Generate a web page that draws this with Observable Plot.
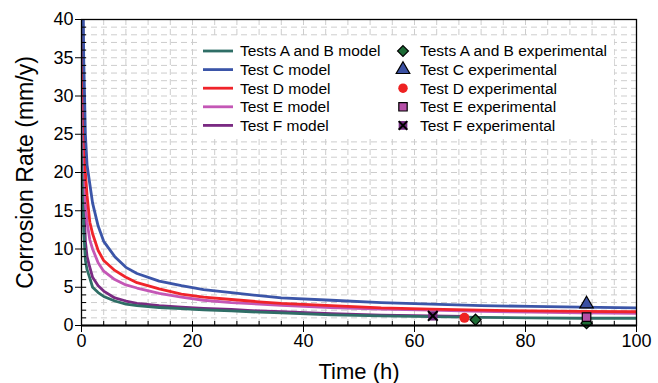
<!DOCTYPE html>
<html>
<head>
<meta charset="utf-8">
<script src="https://cdn.jsdelivr.net/npm/d3@7"></script>
<script src="https://cdn.jsdelivr.net/npm/@observablehq/plot@0.6"></script>
<style>
  body { margin: 0; background: #fff; }
  #chart { position: relative; width: 658px; height: 383px; }
  #chart svg { font-family: "Liberation Sans", Arial, Helvetica, sans-serif; }
</style>
</head>
<body>
<div id="chart"></div>
<script>
// Model curves: corrosion rate (mm/y) against exposure time (h)
const hours  = [0.05, 0.1, 0.2, 0.4, 0.7, 1, 1.5, 2, 3, 4, 6, 8, 10, 14, 18, 22, 27, 32, 36, 45, 54, 63, 72, 81, 90, 100];
const rateAB = [60, 30, 20, 12.5, 8.5, 7.3, 6.2, 5.0, 4.3, 3.8, 3.2, 2.8, 2.6, 2.35, 2.2, 2.05, 1.9, 1.75, 1.65, 1.4, 1.25, 1.15, 1.05, 1.0, 0.95, 0.95];
const rateC  = [90, 70, 50, 35, 25, 21, 18.5, 16, 13, 11, 9, 7.6, 6.8, 5.8, 5.2, 4.7, 4.3, 3.9, 3.6, 3.3, 3.0, 2.8, 2.6, 2.5, 2.4, 2.3];
const rateD  = [80, 60, 40, 30, 20, 17, 13.5, 12, 9.8, 8.5, 7.2, 6.3, 5.6, 4.8, 4.1, 3.7, 3.4, 3.1, 2.9, 2.6, 2.3, 2.15, 2.0, 1.9, 1.85, 1.8];
const rateE  = [75, 55, 38, 25, 16, 13.5, 11.2, 10, 8.2, 7.1, 6.0, 5.3, 4.9, 4.2, 3.7, 3.3, 3.0, 2.8, 2.65, 2.35, 2.15, 2.0, 1.85, 1.75, 1.65, 1.6];
// Test F ran for a shorter time
const hoursF = [0.05, 0.1, 0.2, 0.4, 0.7, 1, 1.5, 2, 3, 4, 6, 8, 10, 14, 18, 22, 27, 32, 36, 45, 54, 63, 69];
const rateF  = [70, 42, 30, 17, 11, 9, 7.6, 6.3, 5.2, 4.5, 3.6, 3.2, 2.9, 2.6, 2.4, 2.25, 2.1, 1.9, 1.8, 1.55, 1.35, 1.25, 1.2];

// Measured (experimental) corrosion rates
const expAB = {time: [71, 91], rate: [0.75, 0.3]};
const expC  = {time: [91], rate: [2.8]};
const expD  = {time: [69], rate: [1.0]};
const expE  = {time: [91], rate: [1.1]};
const expF  = {time: [63.3], rate: [1.25]};

const seriesNames = ["Tests A and B model", "Test C model", "Test D model", "Test E model", "Test F model"];
const expNames = ["Tests A and B experimental", "Test C experimental", "Test D experimental", "Test E experimental", "Test F experimental"];
const lineColors = ["#2f6e66", "#3b55a8", "#f0242a", "#c457b6", "#7a2a82"];

const xTicks = [0, 20, 40, 60, 80, 100];
const yTicks = [0, 5, 10, 15, 20, 25, 30, 35, 40];

const toRows = (ts, vs, name) => ts.map((t, i) => ({t, v: vs[i], name}));
const modelRows = [
  toRows(hours, rateAB, seriesNames[0]),
  toRows(hours, rateC, seriesNames[1]),
  toRows(hours, rateD, seriesNames[2]),
  toRows(hours, rateE, seriesNames[3]),
  toRows(hoursF, rateF, seriesNames[4])
];
const expRows = (e) => e.time.map((t, i) => ({t, v: e.rate[i]}));

const lineStyle = (i) => ({x: "t", y: "v", stroke: lineColors[i], strokeWidth: 2.8, clip: true});
const gridStyle = {stroke: "#cdcdcd", strokeOpacity: 1, strokeWidth: 1, strokeDasharray: "6,4"};

const chart = Plot.plot({
  width: 658,
  height: 383,
  marginLeft: 81,
  marginRight: 22,
  marginTop: 19,
  marginBottom: 58,
  x: {domain: [0, 100]},
  y: {domain: [0, 40]},
  style: {fontFamily: "Liberation Sans, Arial, sans-serif", background: "#fff"},
  marks: [
    Plot.gridX(d3.range(4, 100, 4), gridStyle),
    Plot.gridY(d3.range(1, 40, 1), gridStyle),
    // draw order: lower curves first
    Plot.line(modelRows[4], lineStyle(4)),
    Plot.line(modelRows[0], lineStyle(0)),
    Plot.line(modelRows[3], lineStyle(3)),
    Plot.line(modelRows[2], lineStyle(2)),
    Plot.line(modelRows[1], lineStyle(1)),
    // experimental points
    Plot.dot(expRows(expAB), {x: "t", y: "v", symbol: "diamond2", r: 5, fill: "#1d6b35", stroke: "#000", strokeWidth: 1.2}),
    Plot.dot(expRows(expC), {x: "t", y: "v", symbol: "triangle", r: 5, fill: "#3a50a2", stroke: "#000", strokeWidth: 1.2}),
    Plot.dot(expRows(expD), {x: "t", y: "v", symbol: "circle", r: 5, fill: "#ee2222"}),
    Plot.dot(expRows(expE), {x: "t", y: "v", symbol: "square", r: 4.8, fill: "#b650a8", stroke: "#000", strokeWidth: 1.2}),
    Plot.dot(expRows(expF), {x: "t", y: "v", symbol: "square", r: 5.2, fill: "#6e2a7c"}),
    Plot.dot(expRows(expF), {x: "t", y: "v", symbol: "times", r: 4.5, stroke: "#000", strokeWidth: 2}),
    // frame and axes
    Plot.frame({stroke: "#000", strokeWidth: 1.3}),
    Plot.ruleY([0], {stroke: "#000", strokeWidth: 2.2}),
    Plot.axisX(xTicks, {tickSize: 7, tickPadding: 2, fontSize: 18, label: null, stroke: "#000"}),
    Plot.axisX(d3.range(0, 101, 4), {tickSize: -4, text: null, label: null, stroke: "#000"}),
    Plot.axisY(yTicks, {tickSize: 6, tickPadding: 2, fontSize: 18, label: null, stroke: "#000"}),
    Plot.axisY(d3.range(0, 41, 1), {tickSize: -5, text: null, label: null, stroke: "#000"}),
    Plot.text(["Time (h)"], {frameAnchor: "bottom", dy: 53, fontSize: 22, fill: "#000"}),
    Plot.text(["Corrosion Rate (mm/y)"], {frameAnchor: "left", textAnchor: "middle", rotate: -90, dx: -56, fontSize: 23, fill: "#000"})
  ]
});

document.getElementById("chart").appendChild(chart);

// Legend drawn into the plot's SVG, on a white panel over the grid
const svg = d3.select(chart);
const lg = svg.append("g").attr("transform", "translate(198,38)").attr("text-anchor", "start");
lg.append("rect").attr("width", 416).attr("height", 98).attr("fill", "#fff");
const rowY = (i) => 13 + i * 18.6;
const lgFont = 15.5;

seriesNames.forEach((name, i) => {
  const row = lg.append("g").attr("transform", `translate(0,${rowY(i)})`);
  row.append("line").attr("x1", 5).attr("x2", 35).attr("stroke", lineColors[i]).attr("stroke-width", 2.8);
  row.append("text").attr("x", 42).attr("dy", "0.35em").attr("font-size", lgFont).attr("fill", "#000").text(name);
});

const sym = (type, size) => d3.symbol(type, size)();
const expStyles = [
  {path: sym(d3.symbolDiamond2, 75), fill: "#1d6b35", stroke: "#000"},
  {path: sym(d3.symbolTriangle, 80), fill: "#3a50a2", stroke: "#000"},
  {path: sym(d3.symbolCircle, 70), fill: "#ee2222", stroke: "none"},
  {path: sym(d3.symbolSquare, 70), fill: "#b650a8", stroke: "#000"},
  {path: sym(d3.symbolSquare, 75), fill: "#6e2a7c", stroke: "none", cross: true}
];
expNames.forEach((name, i) => {
  const row = lg.append("g").attr("transform", `translate(0,${rowY(i)})`);
  const s = expStyles[i];
  row.append("path").attr("transform", "translate(205,0)").attr("d", s.path)
    .attr("fill", s.fill).attr("stroke", s.stroke).attr("stroke-width", 1.2);
  if (s.cross) {
    row.append("path").attr("transform", "translate(205,0)").attr("d", sym(d3.symbolTimes, 50))
      .attr("fill", "none").attr("stroke", "#000").attr("stroke-width", 2);
  }
  row.append("text").attr("x", 222).attr("dy", "0.35em").attr("font-size", lgFont).attr("fill", "#000").text(name);
});
</script>
</body>
</html>
